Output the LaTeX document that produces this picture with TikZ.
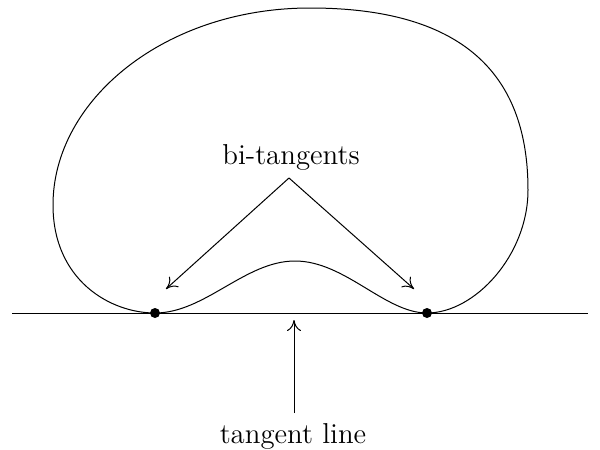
\documentclass[tikz,border=0pt]{standalone}
\usetikzlibrary{arrows.meta}
\begin{document}
\begin{tikzpicture}[x=0.5pt,y=-0.5pt,
  lbl/.style={font=\Large},
  ptr/.style={-{Computer Modern Rightarrow[length=5.5pt,width=7pt]},line width=0.5pt},
  dot/.style={circle,fill=black,inner sep=0pt,minimum size=5pt}]
\useasboundingbox (0,0) rectangle (600,450);
\coordinate (L) at (12,313);
\coordinate (R) at (588,313);
\draw[line width=0.5pt] (L) -- (R);
\draw[line width=0.5pt] (155,313) .. controls (205,313) and (245,261) .. (295,261)
  .. controls (345,261) and (385,313) .. (427,313)
  .. controls (475,313) and (528,255) .. (528,190)
  .. controls (528,90) and (480,8) .. (310,8)
  .. controls (165,8) and (53,100) .. (53,205)
  .. controls (53,280) and (110,313) .. (155,313);
\node[dot] (p1) at (155,313) {};
\node[dot] (p2) at (427,313) {};
\node[lbl] (bt) at (291,157) {bi-tangents};
\node[lbl] (tl) at (293,436) {tangent line};
\coordinate (apex) at (289,178);
\coordinate (a1) at (166,289);
\coordinate (a2) at (414,289);
\coordinate (tb) at (294,413);
\coordinate (tt) at (294,320);
\draw[ptr] (apex) -- (a1);
\draw[ptr] (apex) -- (a2);
\draw[ptr] (tb) -- (tt);
\end{tikzpicture}
\end{document}
